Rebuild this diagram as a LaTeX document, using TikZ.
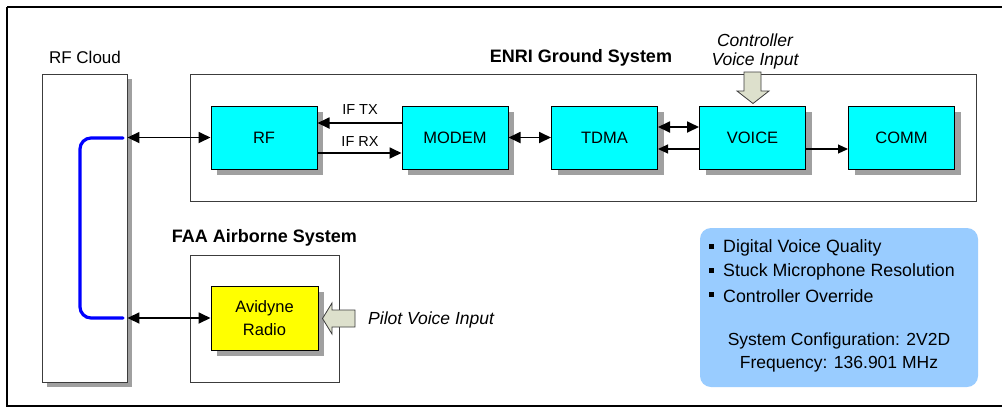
\documentclass[tikz,border=0pt]{standalone}
\usepackage{fontspec}
\setmainfont{Liberation Sans}
\usetikzlibrary{arrows.meta,shadows,calc}
\definecolor{blockcyan}{RGB}{0,255,255}
\definecolor{blockyellow}{RGB}{255,255,0}
\definecolor{infoblue}{RGB}{153,204,255}
\definecolor{fatfill}{RGB}{221,224,204}
\definecolor{shadowgray}{RGB}{160,160,160}
\definecolor{framegray}{RGB}{60,60,60}
\tikzset{
  blockbox/.style={draw=black, line width=1pt, minimum width=106pt, minimum height=63pt,
    inner sep=0pt, font=\fontsize{16.5}{19}\selectfont,
    drop shadow={shadow xshift=6pt, shadow yshift=-6pt, fill=shadowgray, opacity=1}},
  sysbox/.style={draw=framegray, line width=0.9pt, inner sep=0pt},
  title/.style={font=\bfseries\fontsize{18}{21}\selectfont, inner sep=0pt},
  lbl/.style={font=\fontsize{17}{20}\selectfont, inner sep=0pt},
  smalllbl/.style={font=\fontsize{14.5}{16}\selectfont, inner sep=0pt},
  itlbl/.style={font=\itshape\fontsize{17.5}{20}\selectfont, inner sep=0pt},
  biarrow/.style={line width=1.8pt, {Triangle[length=12pt,width=11pt]}-{Triangle[length=12pt,width=11pt]}},
  onearrow/.style={line width=1.8pt, -{Triangle[length=12pt,width=11pt]}},
  thinarrow/.style={line width=1.1pt, -{Triangle[length=10pt,width=9pt]}},
  fatarrow/.style={draw=framegray, line width=0.8pt, fill=fatfill},
  bullettext/.style={font=\fontsize{17.8}{20}\selectfont, inner sep=0pt, anchor=west}
}
\begin{document}
\begin{tikzpicture}[x=1pt,y=-1pt]
\useasboundingbox (0,0) rectangle (1002,408);
\fill[white] (0,0) rectangle (1002,408);
% outer frame
\draw[line width=2.4pt] (7,7) -- (1012,7) (7,7) -- (7,405.8) -- (1012,405.8);

% RF cloud
\node[lbl] (cloudlbl) at (85,57) {RF Cloud};
\node[sysbox, fill=white, minimum width=85pt, minimum height=308pt,
  drop shadow={shadow xshift=5pt, shadow yshift=-5pt, fill=shadowgray, opacity=1}] (cloud) at (84.5,228) {};

% ENRI ground system
\node[sysbox, minimum width=786pt, minimum height=127pt] (enri) at (583,137.5) {};
\node[title] (enrilbl) at (581,58) {ENRI Ground System};

\node[blockbox, fill=blockcyan] (rf) at (264,137.5) {RF};
\node[blockbox, fill=blockcyan] (modem) at (455,137.5) {MODEM};
\node[blockbox, fill=blockcyan] (tdma) at (604.5,137.5) {TDMA};
\node[blockbox, fill=blockcyan] (voice) at (752.5,137.5) {VOICE};
\node[blockbox, fill=blockcyan] (comm) at (901.5,137.5) {COMM};

% FAA airborne system
\node[sysbox, minimum width=149pt, minimum height=127pt] (faa) at (264.5,318.5) {};
\node[title] (faalbl) at (264.5,238) {FAA Airborne System};
\node[blockbox, fill=blockyellow, minimum width=107pt, minimum height=64pt, align=center,
  font=\fontsize{16.5}{23}\selectfont] (avid) at (264.5,318) {Avidyne\\Radio};

% blue link
\coordinate (c1) at (123,138);
\coordinate (c2) at (123,318);
\draw[blue, line width=3.2pt, rounded corners=11pt, line cap=round] (c1) -- (80,138) -- (80,318) -- (c2);

% connectors
\draw[biarrow] (cloud.east |- rf.west) -- (rf.west);
\draw[biarrow] (cloud.east |- avid.west) -- (avid.west);
\draw[onearrow] (modem.west |- 0,123) -- (rf.east |- 0,123);
\draw[onearrow] (rf.east |- 0,153) -- (modem.west |- 0,153);
\node[smalllbl] (iftx) at (360,110) {IF TX};
\node[smalllbl] (ifrx) at (360,142) {IF RX};
\draw[biarrow] (modem.east) -- (tdma.west);
\draw[biarrow] (tdma.east |- 0,127) -- (voice.west |- 0,127);
\draw[thinarrow] (voice.west |- 0,149) -- (tdma.east |- 0,149);
\draw[thinarrow] (voice.east |- 0,149) -- (comm.west |- 0,149);

% controller voice input
\node[itlbl] (ctrl1) at (755,40) {Controller};
\node[itlbl] (ctrl2) at (755,61) {Voice Input};
\draw[fatarrow] (744,72) -- (761,72) -- (761,91) -- (769,91) -- (753,103.5) -- (737,91) -- (744,91) -- cycle;

% pilot voice input
\draw[fatarrow] (355,310) -- (355,327) -- (332,327) -- (332,334) -- (322.5,318.5) -- (332,303) -- (332,310) -- cycle;
\node[itlbl, anchor=west] (pilot) at (368,320) {Pilot Voice Input};

% info box
\node[fill=infoblue, rounded corners=11pt, minimum width=278pt, minimum height=159pt, inner sep=0pt] (info) at (839,307.5) {};
\fill (709,244) rectangle (714,249);
\fill (709,268) rectangle (714,273);
\fill (709,292) rectangle (714,297);
\node[bullettext] (b1) at (723,248) {Digital Voice Quality};
\node[bullettext] (b2) at (723,272) {Stuck Microphone Resolution};
\node[bullettext] (b3) at (723,296) {Controller Override};
\node[font=\fontsize{17.5}{20}\selectfont, inner sep=0pt] (cfg) at (839,341) {System Configuration: 2V2D};
\node[font=\fontsize{17.5}{20}\selectfont, inner sep=0pt] (freq) at (839,364) {Frequency: 136.901 MHz};
\end{tikzpicture}
\end{document}
